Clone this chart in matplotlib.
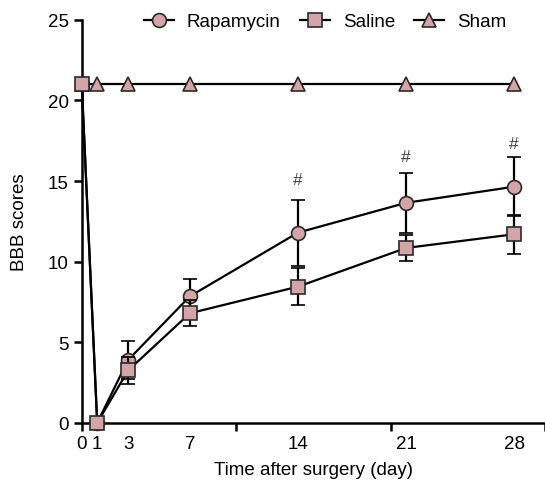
import matplotlib
matplotlib.use('Agg')
import matplotlib.pyplot as plt
import numpy as np

plt.rcParams['font.family'] = ['Liberation Sans', 'DejaVu Sans']
plt.rcParams['font.size'] = 13.5

# days after surgery
days = [0, 1, 3, 7, 14, 21, 28]

# BBB scores (mean, error)
rapa_mean = [21, 0, 3.9, 7.85, 11.8, 13.65, 14.65]
rapa_err = [0, 0, 1.2, 1.1, 2.05, 1.85, 1.82]
saline_mean = [21, 0, 3.25, 6.8, 8.45, 10.85, 11.7]
saline_err = [0, 0, 0.82, 0.8, 1.15, 0.82, 1.2]
sham_mean = [21, 21, 21, 21, 21, 21, 21]

# significance marks
hash_days = [14, 21, 28]
hash_y = [15.1, 16.5, 17.3]

xtick_labels = ['0', '1', '3', '7', '14', '21', '28']

fill = '#d3a5a8'
edge = '#2a2a2a'

fig = plt.figure(figsize=(5.45, 4.85), dpi=100)
ax = fig.add_axes([0.150, 0.126, 0.85, 0.831])

sham_line, = ax.plot(days, sham_mean, color='black', lw=1.6, marker='^',
                     ms=10, mfc=fill, mec=edge, mew=1.2, clip_on=False,
                     zorder=3)
rapa = ax.errorbar(days, rapa_mean, yerr=rapa_err, color='black', lw=1.6,
                   elinewidth=1.6, capsize=5, capthick=1.8, marker='o', ms=10,
                   mfc=fill, mec=edge, mew=1.2, clip_on=False, zorder=4)
saline = ax.errorbar(days, saline_mean, yerr=saline_err, color='black', lw=1.6,
                     elinewidth=1.6, capsize=5, capthick=1.8, marker='s',
                     ms=10, mfc=fill, mec=edge, mew=1.2, clip_on=False,
                     zorder=5)

for d, y in zip(hash_days, hash_y):
    ax.text(d, y, '#', ha='center', va='center', fontsize=12.5,
            color='#444444')

ax.set_xlim(0, 30)
ax.set_ylim(0, 25)
ax.xaxis.remove_overlapping_locs = False
ax.set_xticks([0, 10, 20, 30])
ax.set_xticklabels([])
ax.set_xticks(days, minor=True)
ax.set_xticklabels(xtick_labels, minor=True)
ax.tick_params(axis='x', which='minor', length=0, pad=9)
ax.tick_params(axis='both', which='major', length=6, width=1.8)
ax.set_yticks([0, 5, 10, 15, 20, 25])

for s in ['top', 'right']:
    ax.spines[s].set_visible(False)
for s in ['left', 'bottom']:
    ax.spines[s].set_linewidth(1.8)

ax.set_xlabel('Time after surgery (day)', labelpad=6)
ax.set_ylabel('BBB scores', labelpad=14)

ax.legend([rapa[0], saline[0], sham_line], ['Rapamycin', 'Saline', 'Sham'],
          ncol=3, frameon=False, loc='center', bbox_to_anchor=(0.525, 0.995),
          handlelength=1.6, columnspacing=1.0, handletextpad=0.7)

fig.savefig('out.png', dpi=100)
